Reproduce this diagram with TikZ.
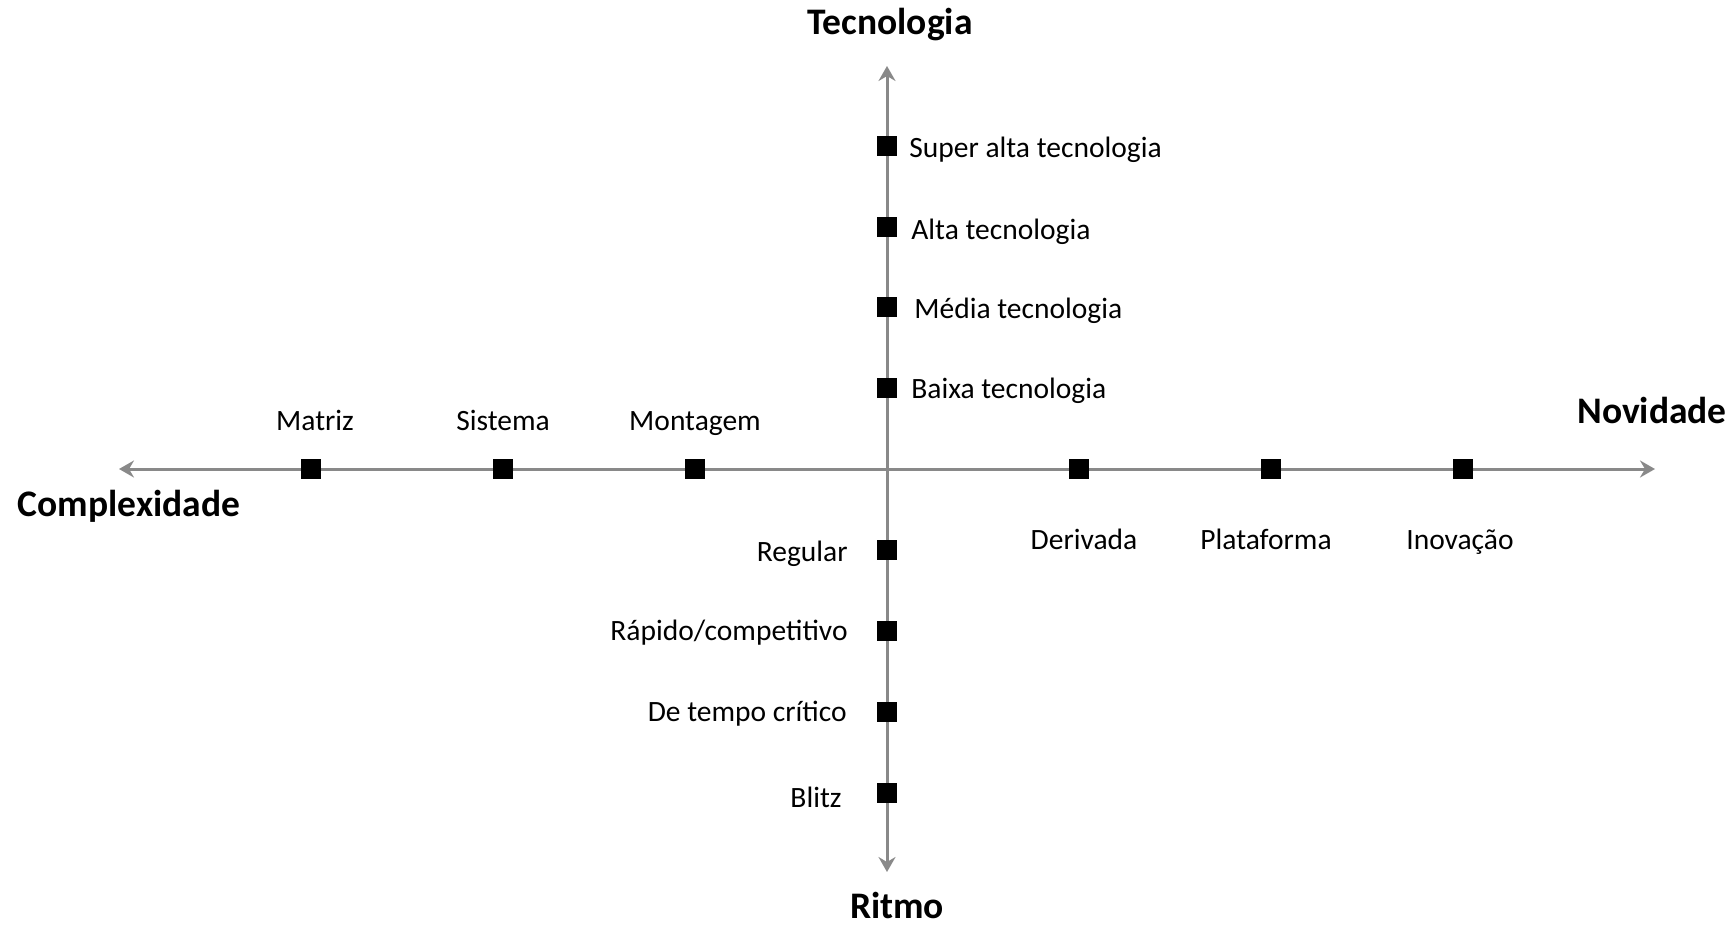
\documentclass[tikz,border=0pt]{standalone}
\usepackage{fontspec}
\setmainfont{Carlito}
\usepackage{xcolor}
\usetikzlibrary{arrows.meta,positioning}
\definecolor{eixo}{RGB}{137,137,137}

\tikzset{
  marco/.style={fill=black,minimum size=20pt,inner sep=0pt},
  rotulo/.style={font=\fontsize{29.5}{35}\selectfont,inner sep=0pt,text height=19pt,text depth=0pt},
  titulo/.style={font=\fontsize{37.5}{44}\selectfont\bfseries,inner sep=0pt,text height=24pt,text depth=0pt},
  seta/.style={draw=eixo,line width=3pt,-{Stealth[length=15pt,width=17pt,inset=5pt]}}
}

\begin{document}
\begin{tikzpicture}[x=1pt,y=-1pt]
\useasboundingbox (0,0) rectangle (1731,926);
% eixos
\coordinate (O) at (887,469);
\coordinate (cima) at (887,66);
\coordinate (baixo) at (887,872);
\coordinate (esq) at (119,469);
\coordinate (dir) at (1655,469);
\draw[seta] (O) -- (cima);
\draw[seta] (O) -- (baixo);
\draw[seta] (O) -- (esq);
\draw[seta] (O) -- (dir);

% titulos dos eixos
\node[titulo,above=31pt of cima,xshift=3pt] (tec) {Tecnologia};
\node[titulo,below=22pt of baixo,xshift=10pt] (ritmo) {Ritmo};
\node[titulo,below=23pt of esq,xshift=10pt] (compl) {Complexidade};
\node[titulo,above=45pt of dir,xshift=-3pt] (nov) {Novidade};

% tecnologia
\node[marco] (t1) at (887,146) {};
\node[marco] (t2) at (887,227) {};
\node[marco] (t3) at (887,307) {};
\node[marco] (t4) at (887,388) {};
\node[rotulo,right=12pt of t1,yshift=-2pt] (lt1) {Super alta tecnologia};
\node[rotulo,right=14pt of t2,yshift=-3pt] (lt2) {Alta tecnologia};
\node[rotulo,right=17pt of t3,yshift=-2pt] (lt3) {Média tecnologia};
\node[rotulo,right=14pt of t4,yshift=-1pt] (lt4) {Baixa tecnologia};

% ritmo
\node[marco] (r1) at (887,550) {};
\node[marco] (r2) at (887,631) {};
\node[marco] (r3) at (887,712) {};
\node[marco] (r4) at (887,793) {};
\node[rotulo,left=29pt of r1,yshift=-2pt] (lr1) {Regular};
\node[rotulo,left=29pt of r2] (lr2) {Rápido/competitivo};
\node[rotulo,left=30pt of r3] (lr3) {De tempo crítico};
\node[rotulo,left=35pt of r4,yshift=-5pt] (lr4) {Blitz};

% complexidade
\node[marco] (c1) at (695,469) {};
\node[marco] (c2) at (503,469) {};
\node[marco] (c3) at (311,469) {};
\node[rotulo,above=28pt of c1] (lc1) {Montagem};
\node[rotulo,above=28pt of c2] (lc2) {Sistema};
\node[rotulo,above=28pt of c3,xshift=4pt] (lc3) {Matriz};

% novidade
\node[marco] (n1) at (1079,469) {};
\node[marco] (n2) at (1271,469) {};
\node[marco] (n3) at (1463,469) {};
\node[rotulo,below=51pt of n1,xshift=5pt] (ln1) {Derivada};
\node[rotulo,below=51pt of n2,xshift=-5pt] (ln2) {Plataforma};
\node[rotulo,below=51pt of n3,xshift=-3pt] (ln3) {Inovação};
\end{tikzpicture}
\end{document}
